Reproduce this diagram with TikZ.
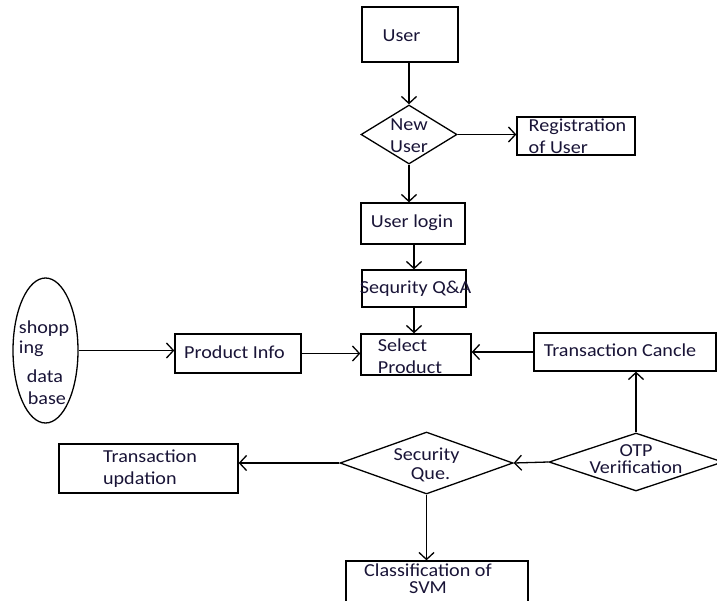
\documentclass[tikz,border=0pt]{standalone}
\usepackage{fontspec}
\setmainfont{Carlito}[FakeStretch=1.1]
\usetikzlibrary{arrows.meta,shapes.geometric}
\definecolor{textc}{RGB}{25,20,55}
\begin{document}
\begin{tikzpicture}[x=1pt,y=-1pt,
  box/.style={draw, rectangle, line width=1.3pt, inner sep=0pt},
  dia/.style={draw, diamond, line width=1.3pt, inner sep=0pt},
  oval/.style={draw, ellipse, line width=1.3pt, inner sep=0pt},
  txt/.style={font=\fontsize{18.3}{22}\selectfont, text=textc, inner sep=0pt},
  conn/.style={draw, line width=1.3pt, -{Straight Barb[length=7pt,width=15pt,line width=1.3pt]}}]
\useasboundingbox (0,0) rectangle (717,600);
\fill[white] (0,0) rectangle (717,600);
\clip (0,0) rectangle (717,600);

\node[box, minimum width=96, minimum height=55,
  label={[txt, xshift=-8.5pt, yshift=-1.5pt]center:User}] (user) at (410,34.5) {};
\node[dia, minimum width=96, minimum height=59,
  label={[txt, align=center, yshift=-1pt]center:New\\User}] (newu) at (409,134.5) {};
\node[box, minimum width=118, minimum height=38,
  label={[txt, align=left, xshift=1.5pt]center:Registration\\of User}] (reg) at (576,136) {};
\node[box, minimum width=104, minimum height=41,
  label={[txt, xshift=-1pt, yshift=1pt]center:User login}] (login) at (413,223.5) {};
\node[box, minimum width=104, minimum height=37,
  label={[txt, xshift=1.5pt]center:Sequrity Q\&A}] (sqa) at (414,288.5) {};
\node[box, minimum width=110, minimum height=41,
  label={[txt, align=left, xshift=-6pt, yshift=-1.5pt]center:Select\\Product}] (sel) at (416,354.5) {};
\node[box, minimum width=126, minimum height=39,
  label={[txt, xshift=-3.5pt, yshift=1.5pt]center:Product Info}] (pinfo) at (238,353.5) {};
\node[box, minimum width=182, minimum height=38,
  label={[txt, xshift=-5pt, yshift=2pt]center:Transaction Cancle}] (cancel) at (625,352) {};
\node[oval, minimum width=65, minimum height=145,
  label={[txt, align=left, xshift=-1.5pt, yshift=-12pt]center:shopp\\[-2pt]ing\\[7pt]\hspace*{8pt}data\\\hspace*{9pt}base}] (db) at (45.5,350.5) {};
\node[dia, minimum width=174, minimum height=58,
  label={[txt, align=center, yshift=3pt]center:OTP\\[-5pt]Verification}] (otp) at (636,462) {};
\node[dia, minimum width=173, minimum height=62,
  label={[txt, align=center, yshift=-1.5pt]center:Security\\[-3pt]\hspace*{8pt}Que.}] (secq) at (426.5,463) {};
\node[box, minimum width=179, minimum height=49,
  label={[txt, align=left, xshift=1.5pt, yshift=-0.5pt]center:Transaction\\updation}] (tupd) at (148.5,468.5) {};
\node[box, minimum width=182, minimum height=60,
  label={[txt, align=center, xshift=-9pt, yshift=12pt]center:Classification of\\[-5pt]SVM}] (svm) at (437,591) {};

\draw[conn] (user.south -| newu.north) -- (newu.north);
\draw[conn] (newu.east) -- (newu.east -| reg.west);
\draw[conn] (newu.south) -- (newu.south |- login.north);
\draw[conn] (login.south -| sqa.north) -- (sqa.north);
\draw[conn] (sqa.south) -- (sqa.south |- sel.north);
\draw[conn] (db.east) -- (db.east -| pinfo.west);
\draw[conn] (pinfo.east) -- (pinfo.east -| sel.west);
\draw[conn] (cancel.west) -- (cancel.west -| sel.east);
\draw[conn] (otp.north) -- (otp.north |- cancel.south);
\draw[conn] (otp.west) -- (secq.east);
\draw[conn] (secq.west) -- (secq.west -| tupd.east);
\draw[conn] (secq.south) -- (secq.south |- svm.north);
\end{tikzpicture}
\end{document}
